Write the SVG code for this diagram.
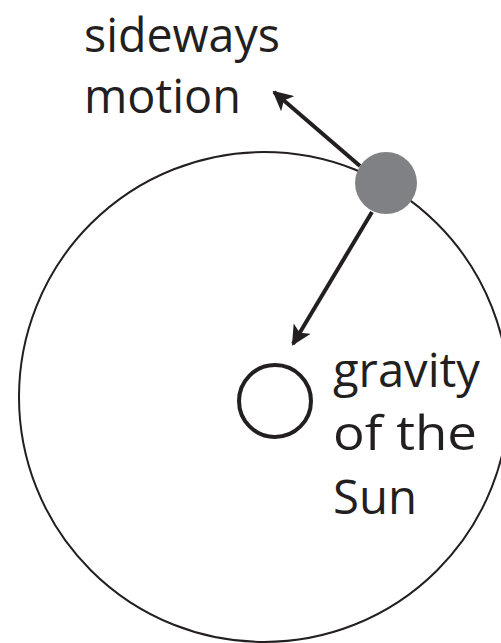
<svg xmlns="http://www.w3.org/2000/svg" width="501" height="643" viewBox="0 0 501 643">
<style>
.lbl{font-family:"Open Sans","Liberation Sans",sans-serif;font-size:48px;fill:#231f20}
.conn{stroke:#231f20;stroke-width:4;fill:none}
</style>
<defs>
<marker id="ah" viewBox="0 0 10 10" refX="9" refY="5" markerWidth="5" markerHeight="5" markerUnits="strokeWidth" orient="auto">
<path d="M0,0 L10,5 L0,10 L2.5,5 Z" fill="#231f20"/>
</marker>
</defs>
<rect width="501" height="643" fill="#fff"/>
<g id="orbit"><circle cx="264" cy="397" r="245" fill="none" stroke="#231f20" stroke-width="2"/></g>
<g id="connectors">
<line class="conn" x1="360" y1="166" x2="274" y2="92" marker-end="url(#ah)"/>
<line class="conn" x1="372" y1="212" x2="293" y2="344" marker-end="url(#ah)"/>
</g>
<g id="planet"><circle cx="386" cy="183" r="31" fill="#808184"/></g>
<g id="sun"><circle cx="275" cy="401" r="36" fill="none" stroke="#231f20" stroke-width="4"/></g>
<g id="label-sideways">
<text class="lbl" x="84" y="52" textLength="196" lengthAdjust="spacingAndGlyphs">sideways</text>
<text class="lbl" x="84" y="113" textLength="157" lengthAdjust="spacingAndGlyphs">motion</text>
</g>
<g id="label-gravity">
<text class="lbl" x="333" y="387" textLength="147" lengthAdjust="spacingAndGlyphs">gravity</text>
<text class="lbl" x="333" y="450" textLength="144" lengthAdjust="spacingAndGlyphs">of the</text>
<text class="lbl" x="333" y="514" textLength="84" lengthAdjust="spacingAndGlyphs">Sun</text>
</g>
</svg>
